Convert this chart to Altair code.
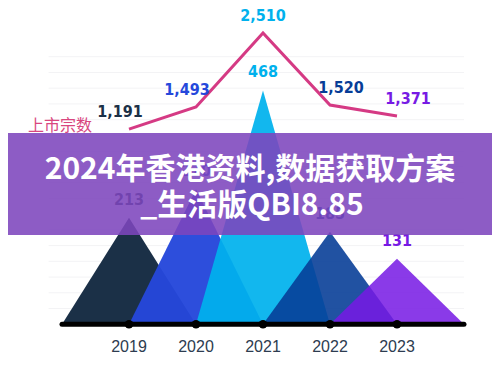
import altair as alt
import pandas as pd

# ---- data ----
years = [2019, 2020, 2021, 2022, 2023]
listings = [213, 270, 468, 185, 131]
listing_labels = ["213", "270", "468", "185", "131"]
amounts = [1191, 1493, 2510, 1520, 1371]
amount_labels = ["1,191", "1,493", "2,510", "1,520", "1,371"]
grid_values = [31.5, 63, 94.5, 126, 157.5, 189, 220.5, 252, 283.5, 315, 346.5, 378, 409.5, 441, 472.5, 504, 535.5]
series_label = "上市宗数"
title_line1 = "2024年香港资料,数据获取方案"
title_line2 = "_生活版QBI8.85"

# ---- styles ----
tri_colors = ["#1b3047", "#2548db", "#00b1ed", "#073d97", "#771ae4"]
tri_opacity = [1, 0.86, 0.86, 0.86, 0.86]
amount_colors = ["#1c1c2c", "#2f56b0", "#2ba9c9", "#1d2a55", "#5b2fa8"]
count_colors = ["#3b2a6b", "#3b2a8b", "#2bb0e0", "#4a2a90", "#6a35b5"]
NUM_FONT = "'DejaVu Sans Condensed', 'Liberation Sans Narrow', 'DejaVu Sans', sans-serif"

W, H = 484, 349
xs = alt.Scale(domain=[2017.194, 2024.418], nice=False, zero=False)
ys = alt.Scale(domain=[-65.5, 627], nice=False, zero=False)
yl = alt.Scale(domain=[-1937, 2811], nice=False, zero=False)

tri_rows = []
for yr, v in zip(years, listings):
    tri_rows.append({"year": yr, "x": yr - 1, "v": 0})
    tri_rows.append({"year": yr, "x": yr, "v": v})
    tri_rows.append({"year": yr, "x": yr + 1, "v": 0})
tri = pd.DataFrame(tri_rows)

pts = pd.DataFrame({
    "year": years, "count": listings, "count_label": listing_labels,
    "amount": amounts, "amount_label": amount_labels,
    "year_label": [str(y) for y in years], "zero": [0] * len(years),
})
axis_df = pd.DataFrame({"x0": [years[0] - 1], "x1": [years[-1] + 1], "zero": [0]})
grid_df = pd.DataFrame({"g": grid_values, "gx0": [2017.8] * len(grid_values), "gx1": [2024.0] * len(grid_values)})
one = pd.DataFrame({"a": [0]})

grid = alt.Chart(grid_df).mark_rule(color="#f3f3f5", strokeWidth=1).encode(
    x=alt.X("gx0:Q", scale=xs, axis=None), x2="gx1:Q",
    y=alt.Y("g:Q", scale=ys, axis=None))

areas = alt.Chart(tri).mark_area(interpolate="linear").encode(
    x=alt.X("x:Q", scale=xs, axis=None),
    y=alt.Y("v:Q", scale=ys, axis=None, stack=None),
    color=alt.Color("year:N", scale=alt.Scale(domain=years, range=tri_colors), legend=None),
    opacity=alt.Opacity("year:N", scale=alt.Scale(domain=years, range=tri_opacity), legend=None),
)

base_rule = alt.Chart(axis_df).mark_rule(color="black", strokeWidth=5, strokeCap="round").encode(
    x=alt.X("x0:Q", scale=xs, axis=None), x2="x1:Q",
    y=alt.Y("zero:Q", scale=ys, axis=None))

dots = alt.Chart(pts).mark_circle(size=75, color="black", opacity=1).encode(
    x=alt.X("year:Q", scale=xs, axis=None),
    y=alt.Y("zero:Q", scale=ys, axis=None))

year_text = alt.Chart(pts).mark_text(dy=23, fontSize=16, font="Liberation Sans", color="#2d3c50").encode(
    x=alt.X("year:Q", scale=xs, axis=None),
    y=alt.Y("zero:Q", scale=ys, axis=None),
    text="year_label:N")

count_text = alt.Chart(pts).mark_text(dy=-18, fontSize=16, font=NUM_FONT, fontWeight="bold").encode(
    x=alt.X("year:Q", scale=xs, axis=None),
    y=alt.Y("count:Q", scale=ys, axis=None),
    color=alt.Color("year:N", scale=alt.Scale(domain=years, range=count_colors), legend=None),
    text="count_label:N")

line = alt.Chart(pts).mark_line(color="#d53a84", strokeWidth=3).encode(
    x=alt.X("year:Q", scale=xs, axis=None),
    y=alt.Y("amount:Q", scale=yl, axis=None))


def amount_text(cond, dx):
    return alt.Chart(pts).transform_filter(cond).mark_text(
        dx=dx, dy=-17, fontSize=16, font=NUM_FONT, fontWeight="bold").encode(
        x=alt.X("year:Q", scale=xs, axis=None),
        y=alt.Y("amount:Q", scale=yl, axis=None),
        color=alt.Color("year:N", scale=alt.Scale(domain=years, range=amount_colors), legend=None),
        text="amount_label:N")


lab_rise = amount_text(alt.datum.year < 2021, -9)
lab_peak = amount_text(alt.datum.year == 2021, 0)
lab_fall = amount_text(alt.datum.year > 2021, 11)

series_text = alt.Chart(one).mark_text(fontSize=16, font="Noto Sans CJK SC", color="#d9477f").encode(
    x=alt.value(52), y=alt.value(115), text=alt.value(series_label))

banner = alt.Chart(one).mark_rect(color="#7d45bd", opacity=0.88).encode(
    x=alt.value(0), x2=alt.value(W), y=alt.value(122), y2=alt.value(224))

t1 = alt.Chart(one).mark_text(fontSize=30, font="Noto Sans CJK SC", fontWeight="bold", color="white",
                              align="center", baseline="middle").encode(
    x=alt.value(242), y=alt.value(159), text=alt.value(title_line1))
t2 = alt.Chart(one).mark_text(fontSize=30, font="Noto Sans CJK SC", fontWeight="bold", color="white",
                              align="center", baseline="middle").encode(
    x=alt.value(244), y=alt.value(195), text=alt.value(title_line2))

chart = alt.layer(
    grid, areas, base_rule, dots, year_text, count_text, line, lab_rise, lab_peak, lab_fall,
    series_text, banner, t1, t2
).resolve_scale(y="independent").properties(
    width=W, height=H, padding=0,
    autosize=alt.AutoSizeParams(type="fit", contains="padding"),
    background="white",
).configure_view(stroke=None)

chart.save("out.html", embed_options={"renderer": "svg", "actions": False})
